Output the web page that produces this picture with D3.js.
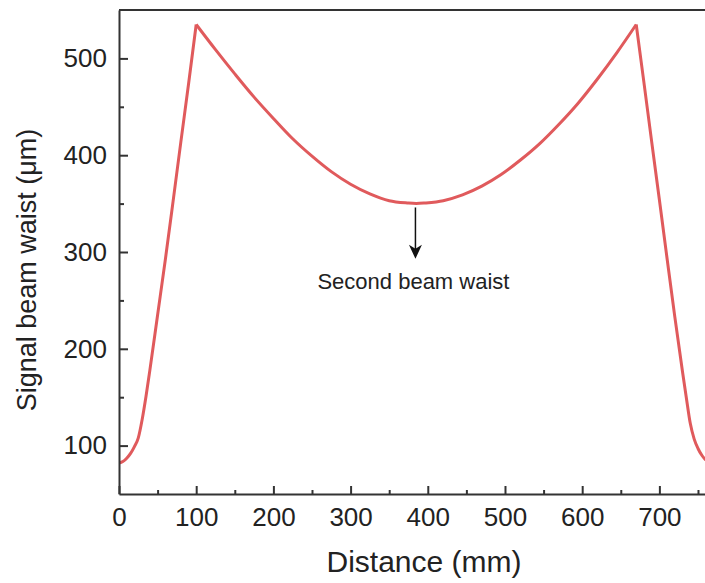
<!DOCTYPE html>
<html>
<head>
    <title>Signal beam waist</title>
    <script src="https://d3js.org/d3.v7.min.js"></script>
    <style>
        body { margin: 0; background: #fff; font-family: Arial, "Liberation Sans", sans-serif; }
        #chart { display: block; }
        .axis path, .axis line { stroke: #333; stroke-width: 2; }
        .axis text { fill: #222; font-size: 26px; font-family: Arial, "Liberation Sans", sans-serif; }
    </style>
</head>
<body>
<svg id="chart"></svg>
<script>

const width = 705, height = 583;

// distance (mm) and signal beam waist (um)
const riseX = [0, 5, 10, 15, 20, 25, 30, 35, 40, 50, 60, 70, 80, 90, 100];
const riseY = [82, 83.5, 87, 92, 99, 108, 127, 151, 178, 235, 292, 352, 413, 473, 535];

const midX = [100, 125, 150, 175, 200, 225, 250, 275, 300, 325, 350, 375, 385,
              395, 420, 445, 470, 495, 520, 545, 570, 595, 620, 645, 670];
const midY = [535, 509, 484, 460, 438, 417, 399, 383, 370, 360, 353, 350.5, 350,
              350.5, 353, 359, 368, 380, 395, 412, 432, 454, 479, 506, 535];

const fallX = [670, 680, 690, 700, 710, 720, 730, 735, 740, 745, 750, 755, 760];
const fallY = [535, 475, 414, 354, 293, 233, 176, 149, 123, 107, 97, 90, 85];

const xTicks = [0, 100, 200, 300, 400, 500, 600, 700];
const xMinor = [50, 150, 250, 350, 450, 550, 650, 750];
const yTicks = [100, 200, 300, 400, 500];
const yMinor = [150, 250, 350, 450];

const note = { x: 384, from: 346, to: 293, textY: 262, label: "Second beam waist" };

const x = d3.scaleLinear().domain([0, 760]).range([119, 705.7]);
const y = d3.scaleLinear().domain([50, 550]).range([494, 10]);

const svg = d3.select("#chart")
    .attr("width", width)
    .attr("height", height);

svg.append("defs").append("clipPath")
    .attr("id", "plot")
    .append("rect")
    .attr("x", x(0)).attr("y", y(550))
    .attr("width", x(760) - x(0)).attr("height", y(50) - y(550));

// curve, drawn in three pieces so the peaks stay sharp
const pieces = [
    { pts: d3.zip(riseX, riseY), curve: d3.curveMonotoneX },
    { pts: d3.zip(midX, midY), curve: d3.curveCatmullRom },
    { pts: d3.zip(fallX, fallY), curve: d3.curveMonotoneX }
];

svg.append("g")
    .attr("clip-path", "url(#plot)")
    .selectAll("path")
    .data(pieces)
    .join("path")
    .attr("d", p => d3.line().x(d => x(d[0])).y(d => y(d[1])).curve(p.curve)(p.pts))
    .attr("fill", "none")
    .attr("stroke", "#e05a5c")
    .attr("stroke-width", 3)
    .attr("stroke-linejoin", "miter");

// axes
svg.append("g")
    .attr("class", "axis")
    .attr("transform", `translate(0,${y(50)})`)
    .call(d3.axisBottom(x).tickValues(xTicks).tickSizeInner(-8).tickSizeOuter(0).tickPadding(14));

svg.append("g")
    .attr("class", "axis")
    .attr("transform", `translate(0,${y(50)})`)
    .call(d3.axisBottom(x).tickValues(xMinor).tickSizeInner(-4).tickSizeOuter(0).tickFormat(""))
    .select(".domain").remove();

svg.append("g")
    .attr("class", "axis")
    .attr("transform", `translate(${x(0)},0)`)
    .call(d3.axisLeft(y).tickValues(yTicks).tickSizeInner(-9).tickSizeOuter(0).tickPadding(12));

svg.append("g")
    .attr("class", "axis")
    .attr("transform", `translate(${x(0)},0)`)
    .call(d3.axisLeft(y).tickValues(yMinor).tickSizeInner(-5).tickSizeOuter(0).tickFormat(""))
    .select(".domain").remove();

// top frame line
svg.append("line")
    .attr("x1", x(0)).attr("x2", width)
    .attr("y1", y(550)).attr("y2", y(550))
    .attr("stroke", "#333")
    .attr("stroke-width", 2);

// axis titles
svg.append("text")
    .attr("x", 424)
    .attr("y", 572)
    .attr("text-anchor", "middle")
    .style("font-size", "30px")
    .style("fill", "#222")
    .text("Distance (mm)");

svg.append("text")
    .attr("transform", "translate(36,270) rotate(-90)")
    .attr("text-anchor", "middle")
    .style("font-size", "27px")
    .style("fill", "#222")
    .text("Signal beam waist (\u03bcm)");

// annotation arrow
const ax = x(note.x);
svg.append("line")
    .attr("x1", ax).attr("x2", ax)
    .attr("y1", y(note.from)).attr("y2", y(note.to) - 8)
    .attr("stroke", "#111")
    .attr("stroke-width", 1.5);

svg.append("path")
    .attr("d", `M${ax},${y(note.to)} L${ax - 6.5},${y(note.to) - 14} L${ax},${y(note.to) - 10} L${ax + 6.5},${y(note.to) - 14} Z`)
    .attr("fill", "#111");

svg.append("text")
    .attr("x", ax - 2)
    .attr("y", y(note.textY))
    .attr("text-anchor", "middle")
    .style("font-size", "22px")
    .style("fill", "#222")
    .text(note.label);

</script>
</body>
</html>
